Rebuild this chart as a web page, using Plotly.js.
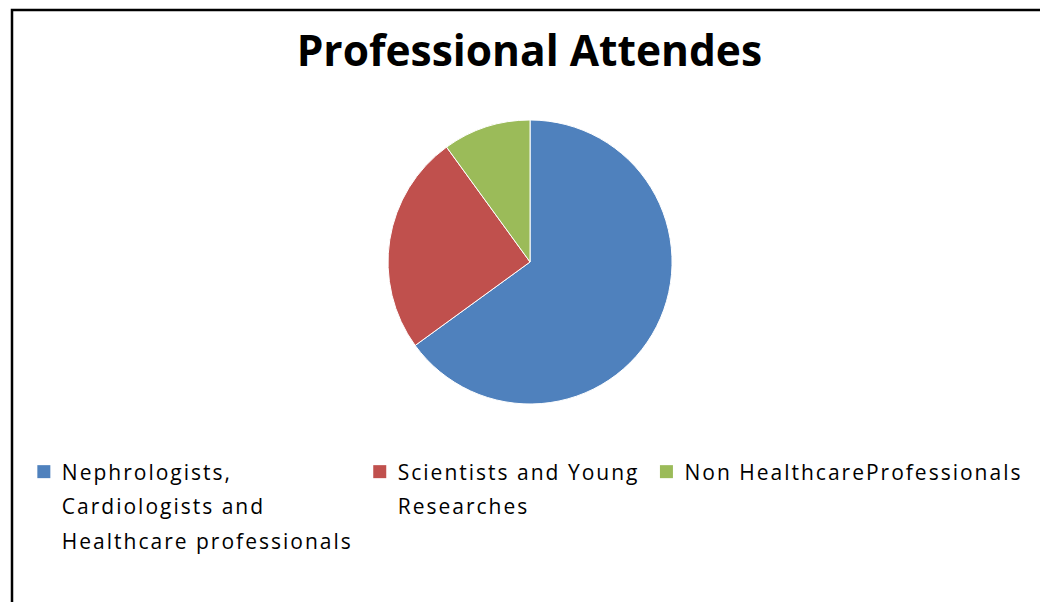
<!DOCTYPE html>
<html>
<head>
<meta charset="utf-8">
<script src="https://cdn.plot.ly/plotly-3.0.1.min.js"></script>
<style>
html,body{margin:0;padding:0;background:#fff;}
#chart{width:1040px;height:602px;}
.legendtext{letter-spacing:2px;}
</style>
</head>
<body>
<div id="chart"></div>
<script>
var categories = [
  "Nephrologists,<br>Cardiologists and<br>Healthcare professionals",
  "Scientists and Young<br>Researches",
  "Non HealthcareProfessionals"
];
var values = [65, 25, 10];
var colors = ["#4F81BD", "#C0504D", "#9BBB59"];
var chartTitle = "Professional Attendes";

var data = [{
  type: "pie",
  labels: categories,
  values: values,
  sort: false,
  direction: "clockwise",
  rotation: 0,
  textinfo: "none",
  hoverinfo: "label+percent",
  marker: {colors: colors, line: {color: "#ffffff", width: 1}},
  domain: {x: [0.3731, 0.6462], y: [0.3289, 0.8007]}
}];

var layout = {
  width: 1040, height: 602,
  margin: {l: 0, r: 0, t: 0, b: 0},
  paper_bgcolor: "#ffffff",
  title: {
    text: "<b>" + chartTitle + "</b>",
    font: {family: "'Open Sans', Lato, sans-serif", size: 42.5, color: "#000000"},
    x: 0.509, xanchor: "center", y: 0.915, yanchor: "middle"
  },
  showlegend: true,
  legend: {
    orientation: "h",
    x: 0.021, xanchor: "left",
    y: 0.25, yanchor: "top",
    font: {family: "'Open Sans', Lato, sans-serif", size: 21, color: "#000000"},
    valign: "top",
    itemwidth: 30
  },
  shapes: [{
    type: "rect", xref: "paper", yref: "paper",
    x0: 12/1040, x1: 1.01, y0: -0.01, y1: 1 - 10/602,
    line: {color: "#000000", width: 2.5}
  }]
};

Plotly.newPlot("chart", data, layout, {displayModeBar: false, staticPlot: true}).then(function(gd) {
  // widen line spacing of the legend texts to match the reference
  gd.querySelectorAll(".legend .legendtext tspan.line").forEach(function(t) {
    var dy = t.getAttribute("dy");
    if (dy && dy.indexOf("em") > 0) {
      t.setAttribute("dy", (parseFloat(dy) * 1.26) + "em");
    }
  });
  // let the taller legend show fully
  gd.querySelectorAll(".legend [clip-path]").forEach(function(el) {
    el.removeAttribute("clip-path");
  });
  var lg = gd.querySelector(".legend");
  if (lg) lg.removeAttribute("clip-path");
  // larger legend squares, slightly closer to the text
  gd.querySelectorAll(".legend path.legendpie, .legend .legendpoints path").forEach(function(p) {
    p.setAttribute("d", "M8.5,6.5H-4.5V-6.5H8.5Z");
    p.style.strokeWidth = "0px";
    p.style.stroke = "none";
  });
});
</script>
</body>
</html>
